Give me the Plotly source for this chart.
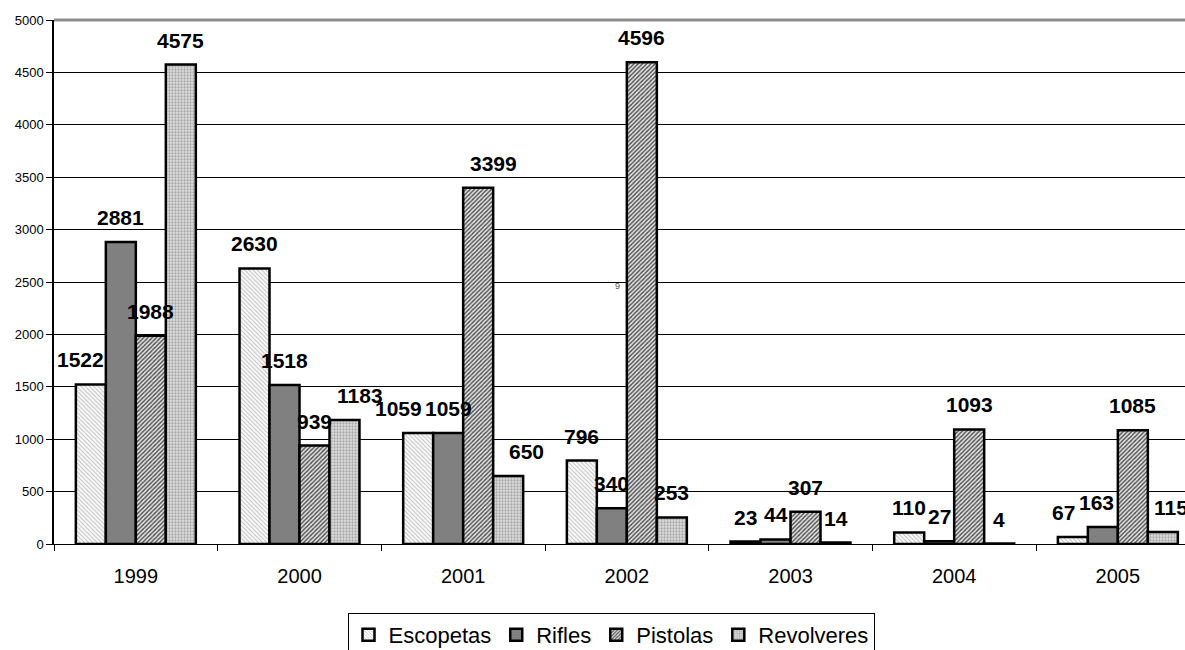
import plotly.graph_objects as go

# Annual counts by weapon type
years = ["1999", "2000", "2001", "2002", "2003", "2004", "2005"]
escopetas = [1522, 2630, 1059, 796, 23, 110, 67]
rifles = [2881, 1518, 1059, 340, 44, 27, 163]
pistolas = [1988, 939, 3399, 4596, 307, 1093, 1085]
revolveres = [4575, 1183, 650, 253, 14, 4, 115]

series = [
    ("Escopetas", escopetas, dict(shape="\\", size=3, solidity=0.3,
                                   fgcolor="#bdbdbd", bgcolor="#fafafa", fillmode="replace")),
    ("Rifles", rifles, None),
    ("Pistolas", pistolas, dict(shape="/", size=3, solidity=0.45,
                                fgcolor="#4a4a4a", bgcolor="#e6e6e6", fillmode="replace")),
    ("Revolveres", revolveres, dict(shape=".", size=3, solidity=0.45,
                                    fgcolor="#a8a8a8", bgcolor="#dedede", fillmode="replace")),
]

# horizontal nudges (px) for labels that sit off-centre over their bar
label_nudge = {(0, 0): -10, (3, 1): 16, (0, 2): -20, (2, 2): 15, (3, 2): 18,
               (0, 6): -9, (1, 6): -6, (3, 6): 8}

BARGAP = 0.267
FONT = "Arial, Liberation Sans, sans-serif"

fig = go.Figure()
for name, vals, pat in series:
    marker = dict(color="#808080", line=dict(color="black", width=2.5))
    if pat:
        marker["pattern"] = pat
    fig.add_trace(go.Bar(name=name, x=years, y=vals, marker=marker,
                         hoverinfo="x+y+name"))

# value labels above each bar, placed at the grouped-bar slot of each series
n = len(series)
bw = (1 - BARGAP) / n
annotations = []
for si, (name, vals, _) in enumerate(series):
    for yi, v in enumerate(vals):
        annotations.append(dict(
            x=yi + (si - (n - 1) / 2) * bw, y=v, xref="x", yref="y",
            text=f"<b>{v}</b>", showarrow=False, yanchor="bottom", yshift=11,
            xshift=label_nudge.get((si, yi), 0),
            font=dict(family=FONT, size=21, color="black")))

annotations.append(dict(x=2.94, y=2465, xref="x", yref="y", text="9",
                        showarrow=False, font=dict(family=FONT, size=9, color="#555")))

fig.update_layout(
    width=1185, height=650,
    margin=dict(l=54, r=0, t=20, b=105.5),
    paper_bgcolor="white", plot_bgcolor="white",
    barmode="group", bargap=BARGAP, bargroupgap=0,
    font=dict(family=FONT, color="black"),
    annotations=annotations,
    # grey frame line along the top of the plotting area
    shapes=[dict(type="line", xref="paper", yref="paper", x0=0, x1=1.02, y0=1, y1=1,
                 line=dict(color="#8c8c8c", width=3), layer="above")],
    legend=dict(orientation="h", xref="container", yref="container",
                x=611 / 1185, xanchor="center", y=1 - 613 / 650, yanchor="top",
                bordercolor="black", borderwidth=1, bgcolor="white",
                font=dict(family=FONT, size=22, color="black"),
                itemclick=False),
    xaxis=dict(type="category", range=[-0.5, -0.5 + 1131 / 163.67],
               showline=True, linecolor="black", linewidth=1,
               ticks="outside", tickson="boundaries", ticklen=6, tickcolor="black",
               ticklabelstandoff=14,
               tickfont=dict(family=FONT, size=20, color="black"), showgrid=False),
    yaxis=dict(range=[0, 5000], dtick=500, showgrid=True, gridcolor="black", gridwidth=1,
               showline=True, linecolor="black", linewidth=1.5,
               ticks="outside", ticklen=6, tickcolor="black", zeroline=False,
               tickfont=dict(family=FONT, size=13, color="black")),
)

fig.write_html("out.html")
